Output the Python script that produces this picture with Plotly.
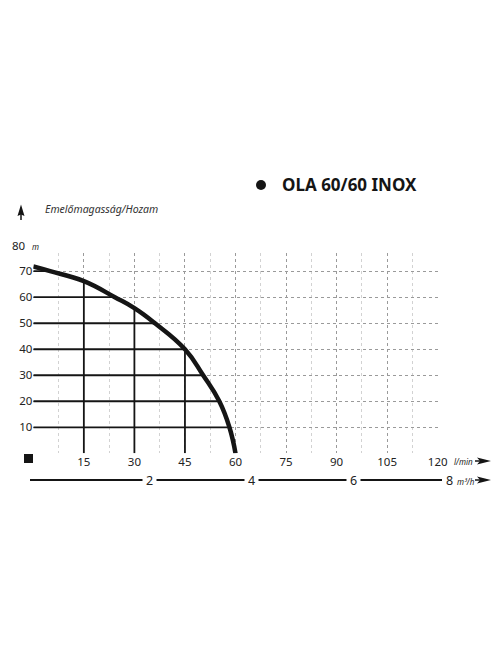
import plotly.graph_objects as go

# ---- data ----
flow_lmin = [0, 5.0, 15, 24.2, 30, 36.1, 45, 50.4, 55.2, 58.2, 60]
head_m = [71.8, 70, 66.2, 60, 55.8, 50, 40, 30, 20, 10, 0]

# operating-point grid lines (black): head levels -> flow on curve
h_levels = [10, 20, 30, 40, 50, 60, 70]
h_level_flow = [58.2, 55.2, 50.4, 45, 36.1, 24.2, 5.0]
q_levels = [15, 30, 45]
q_level_head = [66.2, 55.8, 40]

x_ticks = [0, 15, 30, 45, 60, 75, 90, 105, 120]
x_minor = [7.5, 22.5, 37.5, 52.5, 67.5, 82.5, 97.5, 112.5]
y_ticks = [0, 10, 20, 30, 40, 50, 60, 70]
m3h_ticks = [2, 4, 6, 8]

title = "OLA 60/60 INOX"
ylabel = "Emelőmagasság/Hozam"

FONT = "Noto Sans"
INK = "#151515"

# ---- geometry helpers (pixel -> paper) ----
W, H = 496, 664
ML, MR, MT, MB = 20, 4, 253, 180
PW, PH = W - ML - MR, H - MT - MB
def px(x):
    return (x - ML) / PW
def py(y):
    return (H - MB - y) / PH
def path(points, close=True):
    s = "M " + " L ".join(f"{px(a):.5f},{py(b):.5f}" for a, b in points)
    return s + (" Z" if close else "")

fig = go.Figure()

# black operating lines
lx, ly = [], []
for h, q in zip(h_levels, h_level_flow):
    lx += [0, q, None]
    ly += [h, h, None]
for q, h in zip(q_levels, q_level_head):
    lx += [q, q, None]
    ly += [0, h, None]
fig.add_trace(go.Scatter(x=lx, y=ly, mode="lines",
                         line=dict(color=INK, width=1.8),
                         hoverinfo="skip", showlegend=False))

# pump curve
fig.add_trace(go.Scatter(x=flow_lmin, y=head_m, mode="lines",
                         line=dict(color=INK, width=4.5, shape="spline", smoothing=1.3),
                         showlegend=False, cliponaxis=False))

# dummy trace to carry the m3/h axis
fig.add_trace(go.Scatter(x=m3h_ticks, y=[None] * len(m3h_ticks), xaxis="x2", yaxis="y2",
                         mode="markers", showlegend=False, hoverinfo="skip"))

x_dom = [px(33.3), px(437.7)]
m3_lo = (33.3 - 47) / 51
m3_hi = (ML + PW - 47) / 51

fig.update_layout(
    template="none",
    width=W, height=H, autosize=False,
    margin=dict(l=ML, r=MR, t=MT, b=MB, pad=0),
    paper_bgcolor="white", plot_bgcolor="white",
    font=dict(family=FONT, color="#222", size=11),
    xaxis=dict(domain=x_dom, range=[0, 120], anchor="y", automargin=False,
               tickvals=x_ticks, ticktext=["" if v == 0 else str(v) for v in x_ticks],
               showgrid=True, gridcolor="#9a9a9a", griddash="dot", gridwidth=1,
               minor=dict(tickvals=x_minor, showgrid=True, gridcolor="#d2d2d2",
                          griddash="dot", gridwidth=1, ticks=""),
               zeroline=False, showline=False, ticks="",
               tickfont=dict(size=11.5, color="#222")),
    yaxis=dict(domain=[py(453.3), 1], range=[0, 77], anchor="x", automargin=False,
               tickvals=y_ticks, ticktext=["" if v == 0 else str(v) for v in y_ticks],
               showgrid=True, gridcolor="#9a9a9a", griddash="dot", gridwidth=1,
               zeroline=False, showline=False, ticks="",
               tickfont=dict(size=11.5, color="#222")),
    xaxis2=dict(domain=[x_dom[0], 1.0], range=[m3_lo, m3_hi], anchor="free",
                automargin=False,
                position=py(469), tickvals=m3h_ticks, ticks="outside", ticklen=4,
                tickwidth=1.5, tickcolor="#222", showticklabels=False,
                showgrid=False, zeroline=False, showline=False),
    yaxis2=dict(domain=[0, 0.02], visible=False, anchor="x2", range=[0, 1],
                automargin=False),
)

shapes = []
# m3/h baseline
shapes.append(dict(type="line", xref="paper", yref="paper",
                   x0=px(30), x1=px(442), y0=py(480), y1=py(480),
                   line=dict(color=INK, width=2)))
# black square at origin
shapes.append(dict(type="rect", xref="paper", yref="paper",
                   x0=px(24), x1=px(33), y0=py(463), y1=py(454),
                   fillcolor=INK, line=dict(width=0)))
# title dot
shapes.append(dict(type="circle", xref="paper", yref="paper",
                   x0=px(256), x1=px(266), y0=py(190), y1=py(180),
                   fillcolor=INK, line=dict(width=0)))
# up arrow (head + stem)
shapes.append(dict(type="path", xref="paper", yref="paper",
                   path=path([(21, 204.5), (24.5, 216), (21, 214.5), (17.5, 216)]),
                   fillcolor=INK, line=dict(width=0)))
shapes.append(dict(type="line", xref="paper", yref="paper",
                   x0=px(21), x1=px(21), y0=py(213), y1=py(220),
                   line=dict(color=INK, width=1.5)))
# right arrows (l/min, m3/h)
for yy in (461, 480):
    shapes.append(dict(type="path", xref="paper", yref="paper",
                       path=path([(491, yy), (477, yy - 3.5), (480, yy), (477, yy + 3.5)]),
                       fillcolor=INK, line=dict(width=0)))
    shapes.append(dict(type="line", xref="paper", yref="paper",
                       x0=px(475), x1=px(484), y0=py(yy), y1=py(yy),
                       line=dict(color=INK, width=1.5)))
fig.update_layout(shapes=shapes)

ann = []
ann.append(dict(text="<b>" + title + "</b>", xref="paper", yref="paper",
                x=px(280), y=py(184), xanchor="left", yanchor="middle",
                showarrow=False, font=dict(size=17, color=INK, family=FONT)))
ann.append(dict(text="<i>" + ylabel + "</i>", xref="paper", yref="paper",
                x=px(43), y=py(209), xanchor="left", yanchor="middle",
                showarrow=False, font=dict(size=10.5, color="#333", family=FONT)))
# 80 m
ann.append(dict(text="80", xref="paper", yref="paper", x=px(27.5), y=py(245.7),
                xanchor="right", yanchor="middle", showarrow=False,
                font=dict(size=11.5, color="#222")))
ann.append(dict(text="<i>m</i>", xref="paper", yref="paper", x=px(30), y=py(246.5),
                xanchor="left", yanchor="middle", showarrow=False,
                font=dict(size=8, color="#222")))
# l/min
ann.append(dict(text="<i>l/min</i>", xref="paper", yref="paper", x=px(452), y=py(461),
                xanchor="left", yanchor="middle", showarrow=False,
                font=dict(size=8, color="#222")))
# m3/h labels
for v in m3h_ticks:
    ann.append(dict(text=str(v), xref="x2", yref="paper", x=v, y=py(480),
                    xanchor="center", yanchor="middle", showarrow=False,
                    bgcolor="white", borderpad=3, xshift=(-6 if v == 8 else 0),
                    font=dict(size=12.5, color="#222")))
ann.append(dict(text="<i>m³/h</i>", xref="paper", yref="paper", x=px(455), y=py(481),
                xanchor="left", yanchor="middle", showarrow=False,
                font=dict(size=8, color="#222")))
fig.update_layout(annotations=ann)

fig.write_html("out.html",
               config={"responsive": False, "displayModeBar": False},
               post_script="document.body.style.margin='0';document.body.style.padding='0';"
                           "document.body.style.overflow='hidden';")
